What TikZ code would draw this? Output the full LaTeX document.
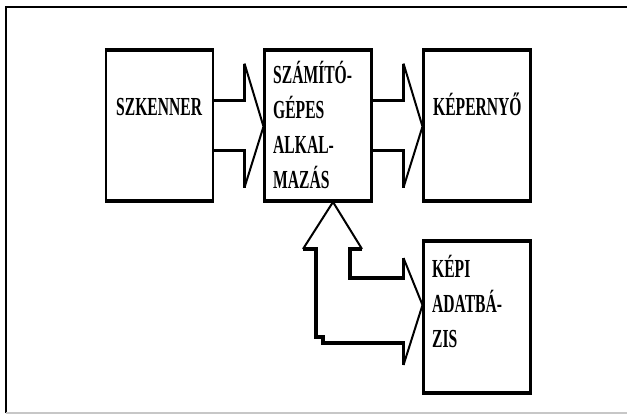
\documentclass[tikz,border=0pt]{standalone}
\usepackage{fontspec}
\setmainfont{Liberation Serif}[FakeStretch=0.6]
\usetikzlibrary{calc}

% hollow block arrow from the east side of #1 to the west side of #2
\newcommand\blockarrow[2]{%
  \draw[shaft] let \p1=(#1.east), \p2=(#2.west) in
    (\x1,\y1+25pt) -- (\x2-20pt,\y1+25pt) -- (\x2-20pt,\y1+62pt)
    (\x2-20pt,\y1-62pt) -- (\x2-20pt,\y1-25pt) -- (\x1,\y1-25pt);
  \draw[headline] let \p1=(#1.east), \p2=(#2.west) in
    (\x2-20pt,\y1+62pt) -- (\x2-1pt,\y1-1pt) -- (\x2-20pt,\y1-62pt);
}

\begin{document}
\begin{tikzpicture}[x=1pt,y=-1pt,
  box/.style={draw, line width=2.5pt, inner sep=0pt, outer sep=0pt,
    minimum width=107pt, minimum height=151pt},
  edge/.style={line width=4.5pt},
  shaft/.style={line width=3.2pt, line join=miter},
  headline/.style={line width=2pt, line join=miter},
  lbl/.style={anchor=base west, align=left, inner sep=0pt,
    font=\fontsize{26}{35}\selectfont\bfseries}]
\useasboundingbox (0,0) rectangle (627,416);

% frame
\draw[line width=2pt] (6,413) -- (6,7) -- (627,7);
\draw[line width=1.2pt, black!22] (6,413) -- (627,413);

% boxes
\node[box] (szk) at (159.5,125.5) {};
\node[box] (cpu) at (318,125.5) {};
\node[box] (scr) at (477,125.5) {};
\node[box, minimum height=152pt] (db) at (477,317) {};
\foreach \b in {szk,cpu,scr,db}
  \draw[edge] ([xshift=-1.25pt]\b.north west) -- ([xshift=1.25pt]\b.north east)
              ([xshift=-1.25pt]\b.south west) -- ([xshift=1.25pt]\b.south east);

% labels (base anchor = baseline of the last line)
\node[lbl] (szk-t) at (116,115) {SZKENNER};
\node[lbl] (cpu-t) at (273,188) {SZÁMÍTÓ-\\GÉPES\\ALKAL-\\MAZÁS};
\node[lbl] (scr-t) at (433,115) {KÉPERNYŐ};
\node[lbl] (db-t) at (432,347) {KÉPI\\ADATBÁ-\\ZIS};

% horizontal block arrows
\blockarrow{szk}{cpu}
\blockarrow{cpu}{scr}

% two-headed block arrow between the application and the database
\coordinate (up) at ([xshift=15pt,yshift=-1pt]cpu.south);
\coordinate (rt) at ([xshift=-1pt,yshift=12pt]db.west);
\draw[shaft] let \p1=(up), \p2=(rt) in
  (\x1+29pt,\y1-47pt) -- (\x1+17pt,\y1-47pt) -- (\x1+17pt,\y2+27pt)
  -- (\x2-19pt,\y2+27pt) -- (\x2-19pt,\y2+47pt)
  (\x2-19pt,\y2-60pt) -- (\x2-19pt,\y2-38pt) -- (\x1-10pt,\y2-38pt)
  -- (\x1-10pt,\y2-32pt) -- (\x1-17pt,\y2-32pt) -- (\x1-17pt,\y1-47pt)
  -- (\x1-30pt,\y1-47pt);
\draw[headline] let \p1=(up), \p2=(rt) in
  (\x2-19pt,\y2+47pt) -- (rt) -- (\x2-19pt,\y2-60pt)
  (\x1-30pt,\y1-47pt) -- (up) -- (\x1+29pt,\y1-47pt);
\end{tikzpicture}
\end{document}
